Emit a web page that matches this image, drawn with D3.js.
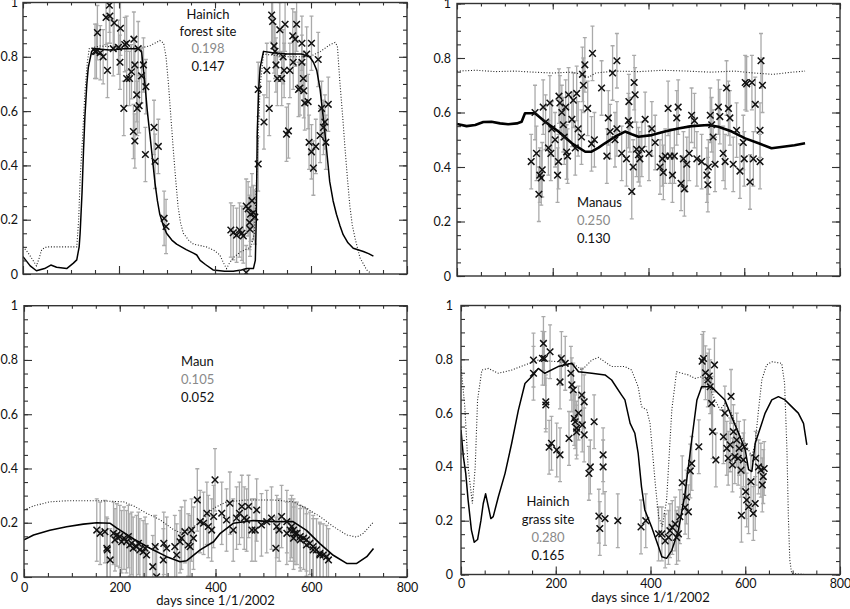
<!DOCTYPE html>
<html>
<head>
<meta charset="utf-8">
<script src="https://cdn.jsdelivr.net/npm/d3@7"></script>
<style>
  body { margin: 0; background: #fff; }
</style>
</head>
<body>
<div id="chart"></div>
<script>
// Settings
const SIZE = [850, 609]
const FONT = "Lato, 'Open Sans', sans-serif"

// Axis ticks
const xMajorTicks = [0, 200, 400, 600, 800]
const xMinorTicks = [0, 50, 100, 150, 200, 250, 300, 350, 400, 450, 500, 550, 600, 650, 700, 750, 800]
const yMajorTicks = [0, 0.2, 0.4, 0.6, 0.8, 1]
const yMinorTicks = [0, 0.05, 0.1, 0.15, 0.2, 0.25, 0.3, 0.35, 0.4, 0.45, 0.5, 0.55, 0.6, 0.65, 0.7, 0.75, 0.8, 0.85, 0.9, 0.95, 1]
const xTitle = "days since 1/1/2002"

// ---- Hainich forest site: [day, value]
const forestSolid = [[0,0.064],[15,0.03],[28,0.012],[45,0.02],[58,0.033],[70,0.025],[91,0.02],[105,0.04],[112,0.052],[117,0.1],[119,0.15],[123,0.3],[126,0.45],[129,0.58],[133,0.7],[136,0.76],[143,0.82],[150,0.83],[180,0.825],[210,0.83],[240,0.83],[247,0.82],[254,0.70],[259,0.6],[264,0.52],[270,0.42],[275,0.335],[280,0.27],[285,0.22],[292,0.18],[299,0.15],[310,0.125],[320,0.11],[340,0.09],[355,0.077],[362,0.07],[369,0.05],[380,0.035],[396,0.015],[420,0.01],[438,0.01],[455,0.015],[466,0.02],[480,0.02],[484,0.05],[486,0.2],[488,0.52],[491,0.68],[494,0.76],[501,0.82],[520,0.815],[550,0.81],[580,0.81],[597,0.8],[605,0.78],[612,0.75],[619,0.68],[624,0.6],[629,0.52],[634,0.43],[639,0.34],[646,0.27],[653,0.22],[660,0.18],[667,0.145],[677,0.115],[688,0.095],[709,0.083],[720,0.075],[730,0.066]]
const forestDotted = [[0,0.10],[10,0.08],[21,0.05],[28,0.03],[34,0.06],[39,0.09],[49,0.10],[80,0.10],[112,0.10],[116,0.2],[119,0.35],[124,0.5],[129,0.67],[134,0.78],[138,0.83],[160,0.84],[200,0.835],[230,0.835],[251,0.835],[264,0.84],[285,0.86],[293,0.85],[298,0.8],[303,0.70],[308,0.58],[313,0.46],[318,0.35],[323,0.25],[328,0.19],[334,0.15],[345,0.125],[355,0.11],[382,0.10],[400,0.085],[410,0.07],[418,0.04],[424,0.02],[430,0.04],[438,0.06],[452,0.08],[475,0.10],[482,0.15],[487,0.37],[491,0.55],[494,0.69],[501,0.81],[550,0.80],[597,0.80],[620,0.82],[640,0.845],[650,0.853],[655,0.84],[660,0.71],[666,0.58],[671,0.46],[676,0.35],[681,0.25],[686,0.18],[692,0.13],[702,0.06],[716,0.015],[723,0.005]]
const forestObs = [[155,0.889],[153,0.82],[150,0.82],[161,0.815],[167,0.80],[176,0.75],[173,0.945],[180,0.99],[181,0.95],[188,0.83],[190,0.925],[203,0.905],[202,0.78],[199,0.835],[210,0.61],[212,0.845],[216,0.72],[222,0.72],[216,0.85],[226,0.745],[231,0.865],[233,0.77],[230,0.525],[233,0.49],[237,0.66],[238,0.61],[240,0.83],[242,0.62],[247,0.73],[251,0.77],[256,0.69],[255,0.44],[273,0.54],[275,0.415],[282,0.47],[294,0.205],[298,0.175],
  [433,0.162],[438,0.152],[445,0.143],[451,0.162],[456,0.15],[459,0.14],[465,0.25],[465,0.005],[469,0.24],[472,0.19],[473,0.165],[474,0.22],[477,0.27],[480,0.226],[483,0.21],
  [490,0.68],[490,0.405],[502,0.56],[508,0.75],[513,0.61],[518,0.954],[520,0.93],[523,0.84],[525,0.82],[527,0.77],[530,0.72],[535,0.9],[539,0.72],[542,0.8],[546,0.92],[544,0.75],[549,0.515],[553,0.527],[556,0.75],[562,0.877],[563,0.78],[567,0.865],[570,0.92],[574,0.68],[577,0.685],[581,0.85],[581,0.78],[584,0.72],[585,0.675],[587,0.63],[591,0.81],[594,0.635],[596,0.485],[601,0.85],[601,0.45],[605,0.39],[610,0.47],[615,0.79],[619,0.51],[622,0.61],[626,0.54],[629,0.56],[631,0.485],[636,0.625]]
const forestErr = 0.1
const forestText = ["Hainich", "forest site"]
const forestScores = ["0.198", "0.147"]

// ---- Manaus
const manausSolid = [[0,0.558],[20,0.55],[38,0.554],[55,0.565],[72,0.566],[90,0.56],[107,0.557],[125,0.56],[135,0.566],[142,0.597],[163,0.597],[184,0.566],[212,0.53],[240,0.487],[268,0.456],[281,0.456],[295,0.47],[309,0.487],[330,0.511],[351,0.53],[365,0.52],[379,0.511],[407,0.517],[434,0.53],[462,0.541],[490,0.55],[525,0.554],[546,0.548],[574,0.53],[602,0.505],[630,0.487],[657,0.469],[685,0.475],[705,0.48],[727,0.487]]
const manausDotted = [[0,0.752],[40,0.755],[80,0.75],[120,0.752],[160,0.748],[200,0.745],[240,0.748],[260,0.74],[275,0.73],[290,0.745],[330,0.752],[380,0.75],[430,0.755],[480,0.752],[530,0.748],[580,0.752],[620,0.745],[660,0.74],[700,0.748],[727,0.752]]
const manausObs = [[155,0.42],[163,0.60],[166,0.45],[171,0.30],[173,0.37],[176,0.36],[178,0.39],[180,0.62],[185,0.565],[191,0.47],[194,0.635],[196,0.45],[198,0.54],[205,0.50],[210,0.37],[212,0.42],[213,0.66],[215,0.635],[219,0.60],[222,0.555],[224,0.51],[227,0.62],[229,0.455],[231,0.44],[233,0.665],[240,0.575],[243,0.645],[247,0.47],[250,0.67],[253,0.54],[260,0.51],[262,0.74],[264,0.70],[267,0.775],[273,0.615],[281,0.485],[283,0.817],[287,0.50],[302,0.69],[313,0.44],[316,0.58],[320,0.53],[325,0.745],[330,0.50],[334,0.79],[334,0.54],[344,0.45],[354,0.43],[358,0.57],[359,0.64],[361,0.555],[365,0.31],[368,0.40],[370,0.71],[372,0.665],[375,0.465],[379,0.445],[382,0.43],[386,0.465],[393,0.575],[401,0.45],[407,0.54],[414,0.49],[424,0.40],[429,0.43],[431,0.38],[435,0.44],[441,0.615],[445,0.44],[450,0.37],[454,0.44],[459,0.58],[462,0.62],[468,0.34],[473,0.43],[475,0.32],[480,0.41],[485,0.45],[490,0.59],[496,0.57],[501,0.43],[511,0.42],[522,0.37],[524,0.335],[525,0.40],[529,0.59],[532,0.555],[535,0.51],[539,0.41],[546,0.62],[549,0.585],[556,0.45],[560,0.42],[563,0.69],[567,0.615],[570,0.58],[577,0.41],[584,0.535],[591,0.385],[598,0.49],[600,0.43],[602,0.71],[605,0.705],[612,0.345],[616,0.71],[619,0.43],[623,0.63],[633,0.535],[633,0.42],[635,0.79],[638,0.70]]
const manausErr = 0.1
const manausText = ["Manaus"]
const manausScores = ["0.250", "0.130"]

// ---- Maun
const maunSolid = [[0,0.137],[20,0.155],[54,0.172],[89,0.185],[124,0.195],[152,0.2],[180,0.198],[194,0.18],[229,0.14],[263,0.106],[298,0.075],[326,0.056],[340,0.06],[368,0.1],[396,0.13],[410,0.161],[437,0.198],[479,0.208],[521,0.204],[562,0.204],[590,0.172],[618,0.123],[646,0.08],[674,0.05],[695,0.05],[716,0.075],[730,0.105]]
const maunDotted = [[0,0.247],[20,0.262],[54,0.277],[89,0.281],[159,0.281],[208,0.277],[229,0.262],[256,0.235],[284,0.211],[312,0.175],[329,0.161],[347,0.175],[368,0.203],[396,0.253],[423,0.277],[465,0.284],[521,0.284],[562,0.277],[590,0.253],[618,0.223],[646,0.186],[674,0.155],[695,0.147],[709,0.161],[730,0.203]]
const maunObs = [[152,0.173],[159,0.161],[169,0.167],[173,0.106],[174,0.1],[180,0.063],[187,0.161],[190,0.137],[194,0.155],[200,0.149],[204,0.13],[209,0.143],[214,0.13],[218,0.149],[221,0.118],[225,0.124],[228,0.106],[235,0.112],[239,0.124],[242,0.1],[249,0.093],[253,0.106],[256,0.081],[269,0.038],[274,0.112],[277,0.001],[291,0.063],[292,0.124],[298,0.106],[315,0.112],[319,0.081],[326,0.13],[329,0.143],[336,0.167],[343,0.118],[347,0.112],[350,0.173],[354,0.143],[362,0.284],[368,0.204],[375,0.198],[382,0.235],[385,0.186],[392,0.173],[396,0.223],[399,0.358],
  [413,0.235],[423,0.21],[430,0.272],[437,0.173],[444,0.217],[450,0.235],[455,0.26],[460,0.217],[465,0.21],[469,0.26],[476,0.173],[483,0.173],[486,0.247],[496,0.192],[507,0.204],[517,0.217],[526,0.106],[528,0.186],[533,0.173],[538,0.223],[549,0.204],[549,0.161],[556,0.173],[559,0.186],[563,0.173],[563,0.143],[566,0.161],[570,0.161],[577,0.149],[577,0.137],[584,0.143],[590,0.137],[590,0.118],[597,0.124],[604,0.112],[604,0.1],[611,0.1],[618,0.087],[618,0.081],[625,0.081],[632,0.075],[636,0.063]]
const maunErr = 0.115
const maunText = ["Maun"]
const maunScores = ["0.105", "0.052"]

// ---- Hainich grass site
const grassSolid = [[0,0.537],[5,0.438],[10,0.376],[15,0.277],[22,0.165],[28,0.12],[35,0.13],[42,0.2],[47,0.264],[52,0.3],[58,0.25],[63,0.208],[68,0.215],[79,0.29],[93,0.376],[107,0.488],[121,0.61],[135,0.71],[149,0.735],[163,0.766],[177,0.748],[205,0.773],[234,0.785],[248,0.754],[276,0.748],[304,0.742],[318,0.723],[339,0.667],[346,0.649],[357,0.562],[367,0.525],[374,0.45],[381,0.326],[388,0.24],[402,0.178],[417,0.103],[424,0.066],[434,0.06],[445,0.09],[459,0.165],[473,0.301],[487,0.5],[498,0.649],[508,0.698],[529,0.698],[543,0.673],[557,0.649],[571,0.587],[586,0.525],[600,0.463],[607,0.39],[614,0.383],[621,0.488],[628,0.525],[642,0.6],[656,0.649],[670,0.661],[684,0.649],[698,0.624],[712,0.6],[723,0.562],[730,0.482]]
const grassDotted = [[0,0.773],[8,0.624],[15,0.4],[24,0.264],[30,0.4],[35,0.649],[44,0.76],[58,0.766],[79,0.748],[107,0.76],[135,0.779],[163,0.797],[205,0.791],[241,0.779],[255,0.76],[276,0.797],[290,0.807],[318,0.773],[346,0.773],[360,0.76],[374,0.698],[381,0.624],[392,0.612],[399,0.562],[410,0.339],[417,0.215],[425,0.178],[434,0.277],[445,0.612],[455,0.754],[466,0.748],[480,0.742],[494,0.729],[508,0.735],[522,0.71],[536,0.649],[547,0.612],[557,0.636],[571,0.6],[586,0.525],[600,0.488],[614,0.438],[621,0.488],[628,0.612],[635,0.723],[645,0.779],[656,0.791],[677,0.785],[683,0.71],[688,0.463],[691,0.215],[694,0.054],[698,0.004],[726,0]]
const grassObs = [[153,0.797],[153,0.748],[172,0.804],[174,0.859],[176,0.803],[179,0.642],[179,0.63],[188,0.828],[186,0.473],[191,0.488],[202,0.463],[209,0.445],[209,0.716],[212,0.803],[220,0.785],[228,0.506],[232,0.748],[234,0.705],[237,0.686],[239,0.58],[241,0.568],[244,0.544],[244,0.53],[248,0.6],[255,0.667],[256,0.556],[260,0.642],[260,0.519],[281,0.568],[270,0.376],[273,0.4],[291,0.217],[293,0.171],[300,0.445],[300,0.4],[304,0.208],[331,0.2],[380,0.177],[390,0.2],
  [417,0.151],[424,0.151],[431,0.125],[438,0.138],[441,0.163],[446,0.175],[452,0.188],[455,0.138],[459,0.151],[462,0.215],[467,0.341],[473,0.25],[476,0.288],[480,0.233],[484,0.385],[487,0.413],[502,0.475],[509,0.793],[512,0.803],[516,0.75],[521,0.723],[524,0.738],[526,0.698],[529,0.636],[531,0.531],[535,0.779],[538,0.426],[554,0.512],[557,0.6],[561,0.469],[564,0.432],[568,0.482],[570,0.662],[573,0.407],[575,0.531],[578,0.438],[582,0.5],[585,0.432],[587,0.469],[591,0.388],[592,0.22],[596,0.426],[598,0.475],[601,0.308],[603,0.277],[607,0.252],[612,0.345],[617,0.227],[621,0.264],[622,0.432],[628,0.4],[633,0.388],[636,0.333],[638,0.364],[640,0.394]]
const grassErr = 0.1
const grassText = ["Hainich", "grass site"]
const grassScores = ["0.280", "0.165"]

// Panel layout (pixel frame of each plot area and where its label sits)
const panels = [
  {id: "forest", left: 23, right: 407, top: 2.5, bottom: 274, yPad: 5, xLabels: false,
   solid: forestSolid, dotted: forestDotted, obs: forestObs, err: forestErr, solidWidth: 1.5,
   text: forestText, scores: forestScores, tx: 208, ty: 18.7, anchor: "middle", lh: 17.3},
  {id: "manaus", left: 457, right: 840, top: 3.5, bottom: 276, yPad: 6, xLabels: false,
   solid: manausSolid, dotted: manausDotted, obs: manausObs, err: manausErr, solidWidth: 2.6,
   text: manausText, scores: manausScores, tx: 577, ty: 207.4, anchor: "start", lh: 17.7},
  {id: "maun", left: 24, right: 407, top: 305.7, bottom: 577, yPad: 6, xLabels: true, xPad: 6, titleY: 604.5,
   solid: maunSolid, dotted: maunDotted, obs: maunObs, err: maunErr, solidWidth: 1.6,
   text: maunText, scores: maunScores, tx: 181, ty: 366.4, anchor: "start", lh: 18},
  {id: "grass", left: 461, right: 840, top: 305.5, bottom: 574.5, yPad: 8, xLabels: true, xPad: 5, titleY: 602,
   solid: grassSolid, dotted: grassDotted, obs: grassObs, err: grassErr, solidWidth: 1.5,
   text: grassText, scores: grassScores, tx: 548, ty: 506.4, anchor: "middle", lh: 17.7}
]

const svg = d3.select("#chart").append("svg")
  .attr("width", SIZE[0])
  .attr("height", SIZE[1])

const yFormat = d => d === 0 ? "0" : d === 1 ? "1" : d3.format(".1f")(d)

function addTicks(g, axis, transform, values, size, format, pad) {
  g.append("g")
    .attr("transform", transform)
    .call(axis.tickValues(values).tickSize(-size).tickPadding(pad || 0).tickFormat(format || ""))
    .call(a => a.select(".domain").remove())
    .call(a => a.selectAll("line").attr("stroke", "#333").attr("stroke-width", 1.1))
    .call(a => a.selectAll("text").attr("font-family", FONT).attr("font-size", 12.5).attr("fill", "#111"))
}

function drawPanel(p) {
  const x = d3.scaleLinear().domain([0, 800]).range([p.left, p.right])
  const y = d3.scaleLinear().domain([0, 1]).range([p.bottom, p.top])
  const g = svg.append("g").attr("id", p.id)

  svg.append("clipPath").attr("id", `clip-${p.id}`)
    .append("rect")
      .attr("x", p.left).attr("y", p.top)
      .attr("width", p.right - p.left).attr("height", p.bottom - p.top)

  const plot = g.append("g").attr("clip-path", `url(#clip-${p.id})`)

  // error bars
  const bars = plot.append("g")
      .attr("stroke", "#aaa")
      .attr("stroke-width", 1.3)
    .selectAll("g")
    .data(p.obs)
    .join("g")
  bars.append("line")
    .attr("x1", d => x(d[0])).attr("x2", d => x(d[0]))
    .attr("y1", d => y(d[1] - p.err)).attr("y2", d => y(d[1] + p.err))
  bars.append("line")
    .attr("x1", d => x(d[0]) - 2).attr("x2", d => x(d[0]) + 2)
    .attr("y1", d => y(d[1] - p.err)).attr("y2", d => y(d[1] - p.err))
  bars.append("line")
    .attr("x1", d => x(d[0]) - 2).attr("x2", d => x(d[0]) + 2)
    .attr("y1", d => y(d[1] + p.err)).attr("y2", d => y(d[1] + p.err))

  const line = d3.line()
    .x(d => x(d[0]))
    .y(d => y(d[1]))

  plot.append("path")
    .datum(p.dotted)
    .attr("fill", "none")
    .attr("stroke", "#222")
    .attr("stroke-width", 1.1)
    .attr("stroke-dasharray", "1,1.8")
    .attr("d", line)

  plot.append("path")
    .datum(p.solid)
    .attr("fill", "none")
    .attr("stroke", "#000")
    .attr("stroke-width", p.solidWidth)
    .attr("stroke-linejoin", "round")
    .attr("d", line)

  // observation crosses
  plot.append("g")
      .attr("stroke", "#111")
      .attr("stroke-width", 1.5)
      .attr("fill", "none")
    .selectAll("path")
    .data(p.obs)
    .join("path")
      .attr("transform", d => `translate(${x(d[0])},${y(d[1])})`)
      .attr("d", "M-3.3,-3.3L3.3,3.3M-3.3,3.3L3.3,-3.3")

  // ticks on all four sides, pointing inward
  addTicks(g, d3.axisBottom(x), `translate(0,${p.bottom})`, xMinorTicks, 4)
  addTicks(g, d3.axisBottom(x), `translate(0,${p.bottom})`, xMajorTicks, 8, p.xLabels ? d => d : "", p.xPad)
  addTicks(g, d3.axisTop(x), `translate(0,${p.top})`, xMinorTicks, 3)
  addTicks(g, d3.axisTop(x), `translate(0,${p.top})`, xMajorTicks, 6)
  addTicks(g, d3.axisLeft(y), `translate(${p.left},0)`, yMinorTicks, 4)
  addTicks(g, d3.axisLeft(y), `translate(${p.left},0)`, yMajorTicks, 8, yFormat, p.yPad)
  addTicks(g, d3.axisRight(y), `translate(${p.right},0)`, yMinorTicks, 4)
  addTicks(g, d3.axisRight(y), `translate(${p.right},0)`, yMajorTicks, 8)

  g.append("rect")
    .attr("x", p.left).attr("y", p.top)
    .attr("width", p.right - p.left).attr("height", p.bottom - p.top)
    .attr("fill", "none")
    .attr("stroke", "#333")
    .attr("stroke-width", 1.4)

  if (p.xLabels) {
    g.append("text")
      .attr("x", (p.left + p.right) / 2)
      .attr("y", p.titleY)
      .attr("text-anchor", "middle")
      .attr("font-family", FONT)
      .attr("font-size", 13)
      .attr("fill", "#111")
      .text(xTitle)
  }

  // site name and the two scores (grey, black)
  const lines = p.text.map(t => ({t: t, c: "#111"}))
    .concat([{t: p.scores[0], c: "#8a8a8a"}, {t: p.scores[1], c: "#111"}])
  g.append("g")
    .attr("font-family", FONT)
    .attr("font-size", 13)
    .attr("text-anchor", p.anchor)
    .selectAll("text")
    .data(lines)
    .join("text")
      .attr("x", p.tx)
      .attr("y", (d, i) => p.ty + i * p.lh)
      .attr("fill", d => d.c)
      .text(d => d.t)
}

panels.forEach(drawPanel)
</script>
</body>
</html>
